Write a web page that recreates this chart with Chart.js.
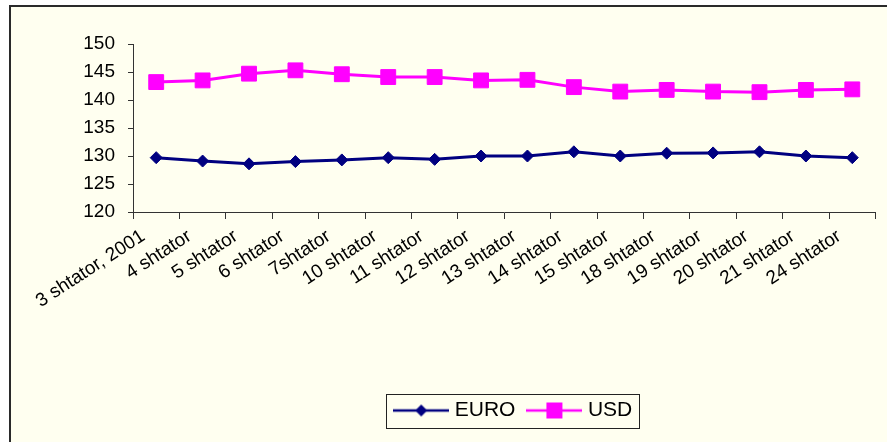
<!DOCTYPE html>
<html>
<head>
<meta charset="utf-8">
<script src="https://cdn.jsdelivr.net/npm/chart.js@4/dist/chart.umd.min.js"></script>
<style>
  html, body { margin: 0; padding: 0; background: #ffffff; overflow: hidden; }
  #frame {
    position: absolute; left: 9px; top: 5px; width: 1000px; height: 1000px;
    background: #FFFFF0; border-left: 2px solid #2a2a2a; border-top: 2px solid #2a2a2a;
  }
  #c { position: absolute; left: 0; top: 0; }
</style>
</head>
<body>
<div id="frame"></div>
<canvas id="c" width="887" height="442"></canvas>
<script>
// Exchange rates for September 2001
const categories = [
  "3 shtator, 2001", "4 shtator", "5 shtator", "6 shtator", "7shtator",
  "10 shtator", "11 shtator", "12 shtator", "13 shtator", "14 shtator",
  "15 shtator", "18 shtator", "19 shtator", "20 shtator", "21 shtator", "24 shtator"
];
const euroRates = [129.7, 129.1, 128.6, 129.0, 129.3, 129.7, 129.4, 130.0, 130.0, 130.75, 130.0, 130.5, 130.55, 130.75, 130.0, 129.7];
const usdRates  = [143.2, 143.5, 144.7, 145.3, 144.6, 144.1, 144.1, 143.5, 143.6, 142.3, 141.5, 141.8, 141.5, 141.4, 141.8, 141.9];
const yTicks = [120, 125, 130, 135, 140, 145, 150];

const EURO_COLOR = '#000080';
const USD_COLOR = '#FF00FF';
const FONT = "'Liberation Sans', Arial, sans-serif";

// Legend symbol: a short line with the series marker in the middle
function makeIcon(color, shape) {
  const cv = document.createElement('canvas');
  cv.width = 56; cv.height = 18;
  const g = cv.getContext('2d');
  g.strokeStyle = color; g.lineWidth = 2.5;
  g.beginPath(); g.moveTo(0, 9); g.lineTo(56, 9); g.stroke();
  g.fillStyle = color;
  g.beginPath();
  if (shape === 'diamond') {
    g.moveTo(28, 3); g.lineTo(34, 9); g.lineTo(28, 15); g.lineTo(22, 9); g.closePath();
  } else {
    g.rect(20, 1, 16, 16);
  }
  g.fill();
  return cv;
}
const icons = [makeIcon(EURO_COLOR, 'diamond'), makeIcon(USD_COLOR, 'square')];

const legendFrame = {
  id: 'legendFrame',
  afterLayout(chart) {
    const l = chart.legend;
    l.left += 11; l.right += 11;
  },
  afterDraw(chart) {
    const hb = chart.legend.legendHitBoxes;
    if (!hb || !hb.length) return;
    const first = hb[0], last = hb[hb.length - 1];
    const cy = first.top + first.height / 2;
    const x0 = Math.round(first.left - 12) + 0.5;
    const x1 = Math.round(last.left + last.width + 7) + 0.5;
    const ctx = chart.ctx;
    ctx.save();
    ctx.strokeStyle = '#222';
    ctx.lineWidth = 1;
    ctx.strokeRect(x0, Math.round(cy - 17) + 0.5, x1 - x0, 34);
    ctx.restore();
  }
};

new Chart(document.getElementById('c'), {
  type: 'line',
  data: {
    labels: categories,
    datasets: [
      {
        label: 'EURO', data: euroRates,
        borderColor: EURO_COLOR, backgroundColor: EURO_COLOR,
        borderWidth: 3, pointStyle: 'rectRot', pointRadius: 6, pointBorderWidth: 1,
        pointBackgroundColor: EURO_COLOR, pointBorderColor: EURO_COLOR, tension: 0
      },
      {
        label: 'USD', data: usdRates,
        borderColor: USD_COLOR, backgroundColor: USD_COLOR,
        borderWidth: 3, pointStyle: 'rect', pointRadius: 10.5, pointBorderWidth: 1,
        pointBackgroundColor: USD_COLOR, pointBorderColor: USD_COLOR, tension: 0
      }
    ]
  },
  options: {
    responsive: false,
    animation: false,
    devicePixelRatio: 1,
    layout: { padding: { top: 44, left: 73, right: 7, bottom: 11 } },
    plugins: {
      tooltip: { enabled: false },
      legend: {
        position: 'bottom',
        fullSize: false,
        labels: {
          color: '#000',
          font: { family: FONT, size: 21 },
          usePointStyle: true,
          pointStyleWidth: 46,
          padding: 16,
          generateLabels(chart) {
            const items = Chart.defaults.plugins.legend.labels.generateLabels(chart);
            items.forEach((it, i) => { it.pointStyle = icons[i]; });
            return items;
          }
        }
      }
    },
    scales: {
      x: {
        offset: true,
        grid: { offset: true, drawOnChartArea: false, drawTicks: true, tickLength: 7, tickColor: '#333', lineWidth: 1 },
        border: { display: true, color: '#333', width: 1 },
        ticks: {
          color: '#000', font: { family: FONT, size: 19 },
          minRotation: 33, maxRotation: 33, padding: 6, labelOffset: -13, autoSkip: false
        },
        afterFit(scale) { scale.height = 172; }
      },
      y: {
        min: 120, max: 150,
        afterBuildTicks(scale) { scale.ticks = yTicks.map(v => ({ value: v })); },
        grid: { drawOnChartArea: false, drawTicks: true, tickLength: 5, tickColor: '#333' },
        border: { display: true, color: '#333', width: 1 },
        ticks: { color: '#000', font: { family: FONT, size: 19 }, padding: 13 },
        afterFit(scale) { scale.width = 60; }
      }
    }
  },
  plugins: [legendFrame]
});
</script>
</body>
</html>
